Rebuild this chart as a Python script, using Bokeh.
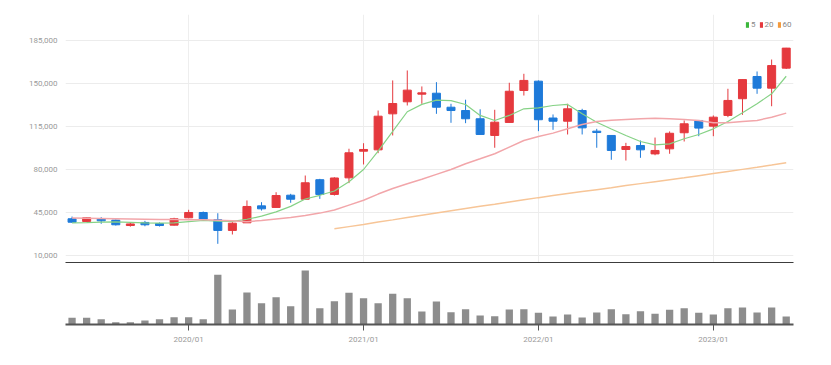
from bokeh.plotting import figure
from bokeh.models import (ColumnDataSource, Range1d, FixedTicker, NumeralTickFormatter,
                          Legend, LegendItem)
from bokeh.layouts import column
from bokeh.embed import file_html
from bokeh.resources import INLINE

# ---------------- data (monthly, 2019/05 .. 2023/06) ----------------
months = [f"{2019 + (4 + i) // 12}/{(4 + i) % 12 + 1:02d}" for i in range(50)]

open_ = [39900, 37700, 40100, 38800, 34400, 36900, 36000, 34700, 40700, 45000,
         39100, 30400, 36600, 50400, 49100, 59100, 55800, 71700, 59700, 73200,
         94900, 96000, 125300, 135100, 141300, 142100, 130700, 128000, 121300, 107700,
         118300, 144300, 151900, 121900, 119300, 128000, 111200, 107700, 96300, 99500,
         92700, 96800, 109900, 119900, 115300, 124000, 137600, 155700, 146200, 162500]
high = [41700, 40900, 41200, 39300, 36500, 38200, 36900, 40700, 47200, 45800,
        44400, 37100, 54800, 53400, 61500, 60200, 75100, 72400, 73700, 96900,
        101400, 128000, 152500, 160600, 147600, 151100, 133500, 136800, 129000, 128600,
        150600, 157900, 152500, 124800, 133500, 129400, 113100, 107700, 101700, 103600,
        106000, 111000, 119900, 119900, 124000, 145700, 153200, 159800, 169500, 179000]
low = [36600, 37500, 35800, 34400, 33500, 33800, 33600, 34400, 40400, 38500,
       19500, 27100, 36600, 46600, 49100, 52900, 55800, 56100, 58800, 68900,
       84100, 93300, 107700, 132100, 133500, 125300, 118000, 117700, 108500, 97700,
       118300, 140200, 111200, 112300, 108500, 108500, 97700, 87900, 87300, 89500,
       91600, 92800, 102800, 107100, 107100, 122600, 124500, 141600, 131500, 161800]
close = [37100, 40700, 38200, 35000, 35700, 35000, 34400, 39900, 45000, 39600,
         30400, 36300, 49900, 48000, 58800, 55800, 69200, 59700, 73100, 93600,
         96300, 123400, 133700, 144600, 142400, 130700, 128000, 121300, 108500, 118500,
         143700, 152500, 120500, 119300, 129400, 113900, 110100, 95500, 98700, 96000,
         95500, 109500, 117200, 113700, 122600, 136200, 153200, 146200, 164600, 178800]

ma5 = [36500, 36800, 37200, 37300, 37000, 36600, 36300, 36600, 37600, 38500,
       38000, 37800, 39500, 42000, 45500, 50000, 56000, 59000, 62500, 70000,
       80000, 95000, 111000, 127000, 133000, 136500, 136000, 132900, 124000, 119900,
       124000, 129400, 130200, 132100, 133000, 125300, 118500, 113000, 107700, 102800,
       100100, 100900, 105000, 108500, 113100, 119100, 126200, 133500, 141600, 155900]
ma20 = [40500, 40300, 40100, 39900, 39700, 39500, 39300, 39200, 39100, 39000,
        38700, 38200, 37500, 38500, 39800, 41000, 42500, 44500, 47000, 51000,
        55000, 60000, 64500, 68400, 72000, 76000, 80000, 84700, 88700, 92800,
        98200, 103600, 106900, 109600, 113100, 116600, 119100, 120000, 120700, 121300,
        121800, 121300, 120700, 119900, 118000, 118000, 119100, 119900, 122600, 125900]
nan = float("nan")
ma60 = [nan] * 18 + [31700, 33500,
        35300, 37200, 39000, 40900, 42800, 44600, 46400, 48200, 50000, 51700,
        53500, 55300, 57100, 58800, 60400, 62000, 63600, 65200, 66900, 68500,
        70100, 71700, 73300, 75000, 76700, 78400, 80100, 81800, 83600, 85500]

# volume (relative units)
volume = [20, 20, 16, 7, 7, 12, 16, 22, 22, 16,
          149, 45, 96, 64, 82, 55, 162, 49, 70, 95,
          79, 64, 92, 79, 39, 69, 37, 46, 27, 25,
          45, 46, 35, 24, 30, 21, 36, 46, 31, 40,
          32, 44, 49, 35, 30, 49, 51, 36, 51, 24]

y_ticks = [10000, 45000, 80000, 115000, 150000, 185000]
legend_labels = ["5", "20", "60"]

# ---------------- styling ----------------
UP = "#e5393e"
DOWN = "#1e7ad9"
FONT = "Roboto"
LABEL_COLOR = "#9a9a9a"

x = list(range(len(months)))
tick_pos = [i for i, m in enumerate(months) if m.endswith("/01")]
tick_lab = {i: months[i] for i in tick_pos}

colors = [UP if c >= o else DOWN for o, c in zip(open_, close)]
src = ColumnDataSource(dict(
    x=x, open=open_, high=high, low=low, close=close,
    top=[max(o, c) for o, c in zip(open_, close)],
    bottom=[min(o, c) for o, c in zip(open_, close)],
    color=colors, ma5=ma5, ma20=ma20, ma60=ma60, vol=volume))

xr = Range1d(-0.45, 49.5)

p = figure(frame_width=728, frame_height=249, x_range=xr, y_range=Range1d(3488, 206160),
           output_backend="svg", toolbar_location=None,
           min_border_left=65, min_border_right=25, min_border_top=14, min_border_bottom=0)
p.outline_line_color = None
p.background_fill_color = "white"

p.segment(x0="x", y0="high", x1="x", y1="low", line_color="color", line_width=1, source=src)
p.vbar(x="x", width=0.55, top="top", bottom="bottom", fill_color="color",
       line_color="color", line_width=1, source=src)

p.line("x", "ma5", source=src, line_color="#86d286", line_width=1.2)
p.line("x", "ma20", source=src, line_color="#f2a6aa", line_width=1.5)
p.line("x", "ma60", source=src, line_color="#f7c597", line_width=1.5)

# y axis
p.yaxis.ticker = FixedTicker(ticks=y_ticks)
p.yaxis.formatter = NumeralTickFormatter(format="0,0")
p.yaxis.axis_line_color = None
p.yaxis.major_tick_line_color = None
p.yaxis.minor_tick_line_color = None
p.yaxis.major_label_standoff = 2
p.yaxis.major_label_text_font = FONT
p.yaxis.major_label_text_font_size = "8px"
p.yaxis.major_label_text_color = LABEL_COLOR
p.ygrid.grid_line_color = "#ececec"
p.ygrid.grid_line_width = 1

# x axis of price panel: only a thick line (no ticks, no labels)
p.xaxis.ticker = FixedTicker(ticks=[])
p.xaxis.major_label_standoff = 0
p.xaxis.major_tick_line_color = None
p.xaxis.minor_tick_line_color = None
p.xaxis.axis_line_color = "#3c3c3c"
p.xaxis.axis_line_width = 3
p.xgrid.ticker = FixedTicker(ticks=tick_pos)
p.xgrid.grid_line_color = "#eeeeee"
p.xgrid.grid_line_width = 1

# legend (coloured squares); the renderers hold a single NaN row so nothing is drawn
leg_colors = ["#3cb73c", "#e5393e", "#f39a3d"]
items = []
for lab, col in zip(legend_labels, leg_colors):
    dummy = ColumnDataSource(dict(l=[nan], r=[nan], t=[nan], b=[nan]))
    rq = p.quad(left="l", right="r", top="t", bottom="b", source=dummy,
                fill_color=col, line_color=None)
    items.append(LegendItem(label=lab, renderers=[rq], index=0))
legend = Legend(items=items, orientation="horizontal", location=(680, 234),
                padding=0, margin=0, spacing=3, glyph_width=4, glyph_height=7,
                label_standoff=2, label_width=0, label_height=8,
                label_text_font=FONT, label_text_font_size="8px",
                label_text_color="#888888",
                background_fill_alpha=0, border_line_alpha=0)
p.add_layout(legend)

# ---------------- volume panel ----------------
pv = figure(frame_width=728, frame_height=56, x_range=xr, y_range=Range1d(0, 168),
            output_backend="svg", toolbar_location=None,
            min_border_left=65, min_border_right=25, min_border_top=5, min_border_bottom=5)
pv.outline_line_color = None
pv.vbar(x="x", width=0.5, top="vol", bottom=0, fill_color="#8d8d8d",
        line_color=None, source=src)
pv.yaxis.visible = False
pv.ygrid.grid_line_color = None
pv.xgrid.grid_line_color = None
pv.xaxis.ticker = FixedTicker(ticks=tick_pos)
pv.xaxis.major_label_overrides = tick_lab
pv.xaxis.axis_line_color = "#555555"
pv.xaxis.axis_line_width = 2
pv.xaxis.major_tick_in = 0
pv.xaxis.major_tick_out = 6
pv.xaxis.major_tick_line_color = "#555555"
pv.xaxis.minor_tick_line_color = None
pv.xaxis.major_label_standoff = 4
pv.xaxis.major_label_text_font = FONT
pv.xaxis.major_label_text_font_size = "8px"
pv.xaxis.major_label_text_color = LABEL_COLOR

layout = column(p, pv, spacing=0)
open("out.html", "w").write(file_html(layout, INLINE))
